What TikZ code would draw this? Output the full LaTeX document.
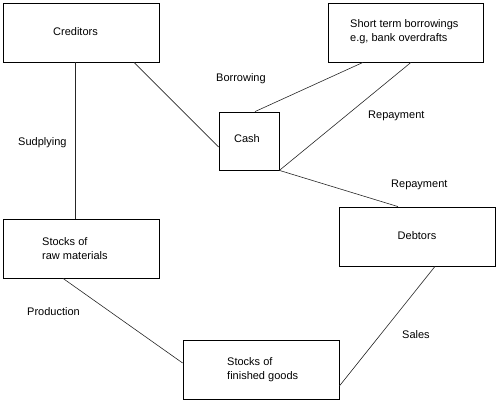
\documentclass[tikz,border=0pt]{standalone}
\usepackage{fontspec}
\setmainfont{Liberation Sans}
\begin{document}
\begin{tikzpicture}[x=1pt,y=-1pt,
  box/.style={draw=black,line width=0.8pt,minimum width=156pt,minimum height=59pt,inner sep=0pt},
  txt/.style={inner sep=0pt,font=\fontsize{11}{14}\selectfont,align=left,yshift=-1.5pt},
  conn/.style={draw=black!85,line width=0.6pt}]
\useasboundingbox (0,0) rectangle (499,403);
\node[box] (cred) at (81,32.5) {};
\node[box,minimum width=155pt] (st) at (405.5,32.5) {};
\node[box,minimum width=60pt,minimum height=58pt] (cash) at (249,141) {};
\node[box] (raw) at (81,248.5) {};
\node[box] (deb) at (417,236.5) {};
\node[box] (fin) at (261,369.5) {};
% texts
\node[txt] (tcred) at (75.5,30) {Creditors};
\node[txt,anchor=west] (tst) at (350,30) {Short term borrowings\\e.g, bank overdrafts};
\node[txt] (tcash) at (247,137) {Cash};
\node[txt,anchor=west] (traw) at (42,247) {Stocks of\\raw materials};
\node[txt] (tdeb) at (417,234) {Debtors};
\node[txt,anchor=west] (tfin) at (227,368.5) {Stocks of\\finished goods};
% labels
\node[txt,anchor=west] (lborrow) at (216,77) {Borrowing};
\node[txt,anchor=west] (lrep1) at (368,114) {Repayment};
\node[txt,anchor=west] (lrep2) at (391,183) {Repayment};
\node[txt,anchor=west] (lsud) at (18,141) {Sudplying};
\node[txt,anchor=west] (lprod) at (27,310) {Production};
\node[txt,anchor=west] (lsales) at (402,333) {Sales};
% connectors
\draw[conn] ([xshift=-6pt]cred.south) -- ([xshift=-6pt]raw.north);
\draw[conn] ([xshift=53pt]cred.south) -- ([yshift=-6pt]cash.west);
\draw[conn] ([xshift=-42.5pt]st.south) -- ([xshift=6pt]cash.north);
\draw[conn] ([xshift=5.5pt]st.south) -- (cash.south east);
\draw[conn] (cash.south east) -- ([xshift=-19pt]deb.north);
\draw[conn] ([xshift=-18pt]raw.south) -- ([yshift=6.5pt]fin.west);
\draw[conn] ([xshift=18pt]deb.south) -- ([yshift=-16.5pt]fin.east);
\end{tikzpicture}
\end{document}
